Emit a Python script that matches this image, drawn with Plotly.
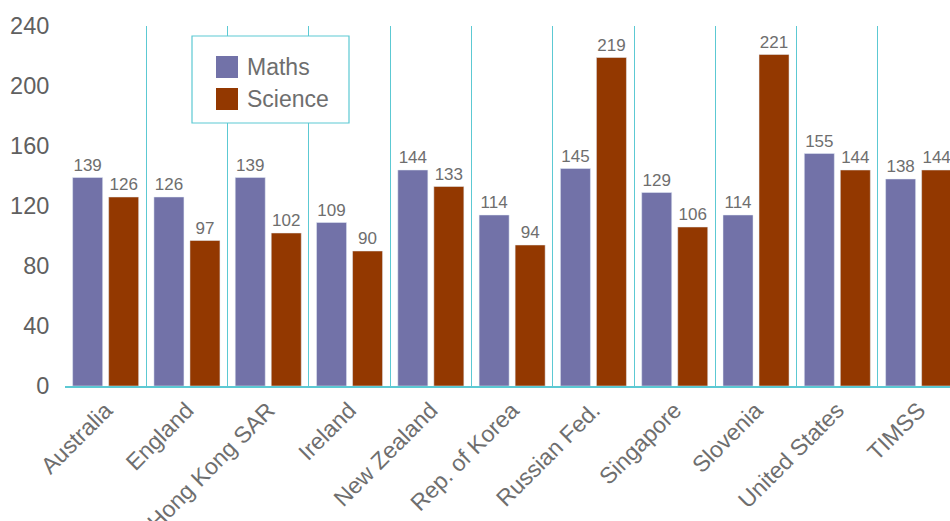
import plotly.graph_objects as go

categories = ["Australia", "England", "Hong Kong SAR", "Ireland", "New Zealand",
              "Rep. of Korea", "Russian Fed.", "Singapore", "Slovenia",
              "United States", "TIMSS"]
maths = [139, 126, 139, 109, 144, 114, 145, 129, 114, 155, 138]
science = [126, 97, 102, 90, 133, 94, 219, 106, 221, 144, 144]
y_ticks = [0, 40, 80, 120, 160, 200, 240]

MATHS_COLOR = "#7272A8"
SCI_COLOR = "#933800"
TEAL = "#5CC9D3"
TEXT = "#6e6e6e"
FONT = "Liberation Sans"

fig = go.Figure()
fig.add_trace(go.Bar(x=categories, y=maths, name="Maths", marker_color=MATHS_COLOR,
                     text=maths, textposition="outside", cliponaxis=False,
                     textfont=dict(size=17, color=TEXT, family=FONT), showlegend=False))
fig.add_trace(go.Bar(x=categories, y=science, name="Science", marker_color=SCI_COLOR,
                     text=science, textposition="outside", cliponaxis=False,
                     textfont=dict(size=17, color=TEXT, family=FONT), showlegend=False))

L, T, B = 65, 26, 135
W, H = 950, 521
pw, ph = W - L, H - T - B


def px(x):
    return (x - L) / pw


def py(y):
    return (H - B - y) / ph


shapes = [
    dict(type="rect", xref="paper", yref="paper", x0=px(192), x1=px(349), y0=py(123), y1=py(36),
         line=dict(color=TEAL, width=1.2), fillcolor="white", layer="above"),
    dict(type="rect", xref="paper", yref="paper", x0=px(216), x1=px(238), y0=py(78), y1=py(56),
         line=dict(width=0), fillcolor=MATHS_COLOR, layer="above"),
    dict(type="rect", xref="paper", yref="paper", x0=px(216), x1=px(238), y0=py(110), y1=py(88),
         line=dict(width=0), fillcolor=SCI_COLOR, layer="above"),
]
annotations = [
    dict(xref="paper", yref="paper", x=px(245), y=py(67), text="Maths", showarrow=False,
         xanchor="left", yanchor="middle", font=dict(size=23, color=TEXT, family=FONT)),
    dict(xref="paper", yref="paper", x=px(245), y=py(99), text="Science", showarrow=False,
         xanchor="left", yanchor="middle", font=dict(size=23, color=TEXT, family=FONT)),
]

fig.update_layout(
    width=W, height=H,
    margin=dict(l=L, r=0, t=T, b=B, pad=0, autoexpand=False),
    paper_bgcolor="white", plot_bgcolor="white",
    barmode="group", bargap=0.114, bargroupgap=1/6,
    font=dict(family=FONT, color=TEXT),
    shapes=shapes, annotations=annotations,
    showlegend=False,
)
fig.update_xaxes(type="category", range=[-0.5, 10.386], tickson="boundaries",
                 showgrid=True, gridcolor=TEAL, gridwidth=1.2, layer="below traces",
                 showline=True, linecolor=TEAL, linewidth=1.5, automargin=False,
                 ticks="", tickangle=-45, tickfont=dict(size=23, color=TEXT, family=FONT))
fig.update_yaxes(range=[0, 240], tickvals=y_ticks, showgrid=False, zeroline=False,
                 showline=False, ticks="outside", ticklen=10, tickcolor="rgba(0,0,0,0)",
                 automargin=False,
                 tickfont=dict(size=23.5, color="#606060", family=FONT))

fig.write_html("out.html")
